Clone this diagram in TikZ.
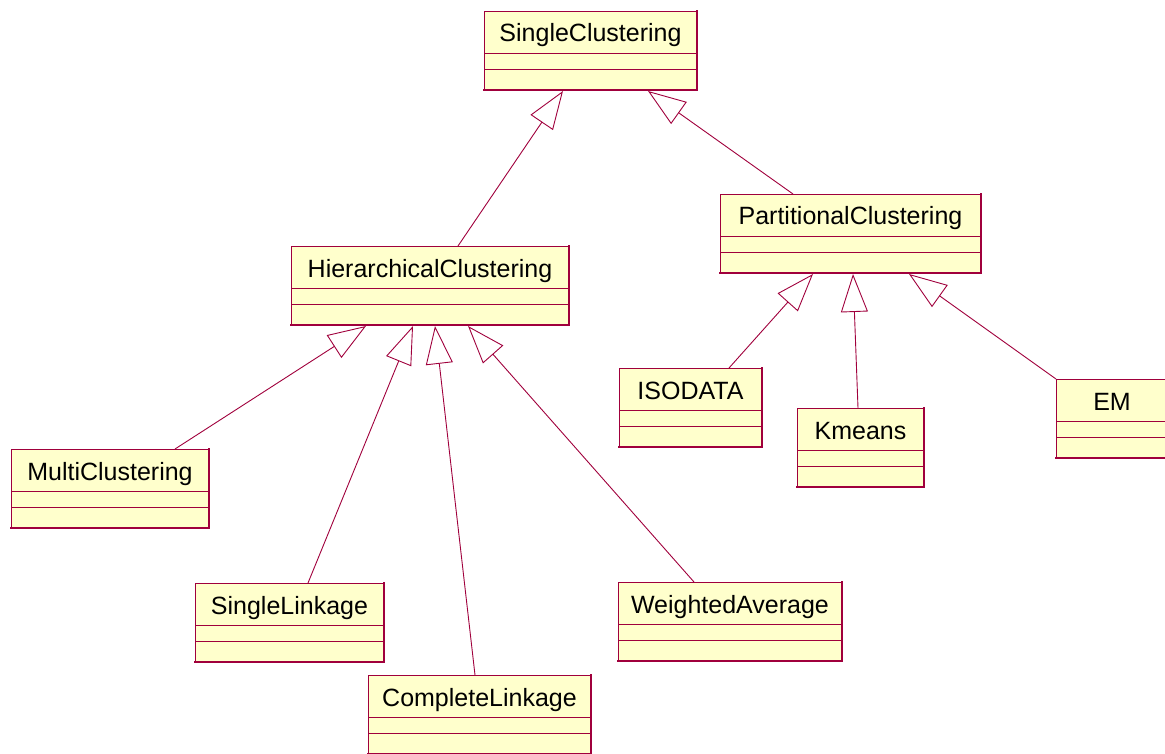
\documentclass[tikz,border=0pt]{standalone}
\usepackage{fontspec}
\setmainfont{Liberation Sans}
\usetikzlibrary{arrows.meta,calc}

\definecolor{umlline}{RGB}{160,0,60}
\definecolor{umlfill}{RGB}{255,255,204}

\tikzset{
  classbox/.style={draw=umlline, fill=umlfill, line width=0.8pt, rectangle,
    inner sep=0pt, outer sep=0pt, minimum height=79pt, anchor=north west},
  classname/.style={font=\fontsize{25}{29}\selectfont, text=black, anchor=base, inner sep=0pt},
  compline/.style={draw=umlline, line width=0.8pt},
  shadowedge/.style={draw=umlline, line width=2pt, line cap=rect},
  inherit/.style={draw=umlline, line width=0.9pt,
    -{Triangle[open, length=38pt, width=27pt]}},
}

% UML class with name compartment and two empty compartments
% #1 node name, #2 left, #3 top, #4 width, #5 class name
\newcommand{\umlclass}[5]{%
  \node[classbox, minimum width=#4pt] (#1) at (#2,#3) {};
  \node[classname] (#1-name) at ($(#1.north)+(0,31)$) {#5};
  \draw[compline] ($(#1.north west)+(0,42)$) -- ($(#1.north east)+(0,42)$);
  \draw[compline] ($(#1.north west)+(0,58)$) -- ($(#1.north east)+(0,58)$);
  \draw[shadowedge] (#1.north east) -- (#1.south east) -- (#1.south west);
}

\begin{document}
\begin{tikzpicture}[x=1pt,y=-1pt]
\useasboundingbox (0,0) rectangle (1165,754);
\clip (0,0) rectangle (1165,754);

\umlclass{sc}{484}{11}{213}{SingleClustering}
\umlclass{hc}{291}{246}{278}{HierarchicalClustering}
\umlclass{pc}{720}{194}{261}{PartitionalClustering}
\umlclass{mc}{11}{449}{198}{MultiClustering}
\umlclass{sl}{195}{583}{189}{SingleLinkage}
\umlclass{cl}{368}{675}{223}{CompleteLinkage}
\umlclass{wa}{618}{582}{224}{WeightedAverage}
\umlclass{iso}{619}{368}{143}{ISODATA}
\umlclass{km}{797}{408}{127}{Kmeans}
\umlclass{em}{1056}{379}{112}{EM}

% generalisations
\draw[inherit] ($(hc.north west)+(167,0)$) -- ($(sc.south west)+(79,1)$);
\draw[inherit] ($(pc.north west)+(73,0)$) -- ($(sc.south west)+(164,1)$);

\draw[inherit] ($(iso.north west)+(110,0)$) -- ($(pc.south west)+(93,1)$);
\draw[inherit] ($(km.north west)+(61,0)$) -- ($(pc.south west)+(133,1)$);
\draw[inherit] (em.north west) -- ($(pc.south west)+(189,1)$);

\draw[inherit] ($(mc.north west)+(164,0)$) -- ($(hc.south west)+(75,1)$);
\draw[inherit] ($(sl.north west)+(113,0)$) -- ($(hc.south west)+(122,1)$);
\draw[inherit] ($(cl.north west)+(107,0)$) -- ($(hc.south west)+(144,1)$);
\draw[inherit] ($(wa.north west)+(76,0)$) -- ($(hc.south west)+(177,1)$);
\end{tikzpicture}
\end{document}
